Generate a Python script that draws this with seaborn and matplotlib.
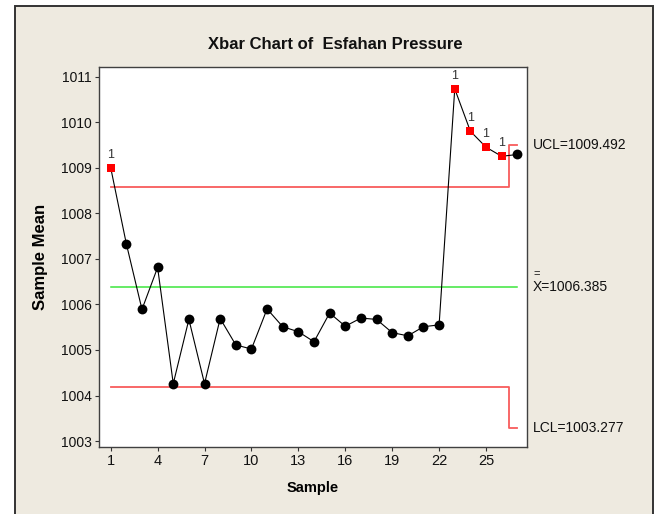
import matplotlib
matplotlib.use("Agg")
import matplotlib.pyplot as plt
import matplotlib.transforms as mtransforms
from matplotlib.patches import Rectangle
import seaborn as sns
import pandas as pd

# ---- data ----
samples = list(range(1, 28))
means = [1009.00, 1007.33, 1005.89, 1006.81, 1004.26, 1005.67, 1004.26, 1005.69,
         1005.11, 1005.02, 1005.90, 1005.51, 1005.40, 1005.18, 1005.81, 1005.52,
         1005.70, 1005.67, 1005.38, 1005.31, 1005.51, 1005.55, 1010.73, 1009.80,
         1009.45, 1009.25, 1009.29]
center = 1006.385
ucl_main, lcl_main = 1008.58, 1004.19      # samples 1-26
ucl_last, lcl_last = 1009.492, 1003.277    # sample 27
yticks = [1003, 1004, 1005, 1006, 1007, 1008, 1009, 1010, 1011]
xticks = [1, 4, 7, 10, 13, 16, 19, 22, 25]

plt.rcParams['font.family'] = ['Liberation Sans', 'DejaVu Sans']

W, H = 659, 514
fig = plt.figure(figsize=(W / 100, H / 100), dpi=100, facecolor='white')

# outer Minitab-like panel
fig.patches.append(Rectangle((14.5 / W, -0.02), (652.5 - 14.5) / W, 1 - 6 / H + 0.02,
                             transform=fig.transFigure, facecolor='#EEEAE0',
                             edgecolor='#333333', linewidth=1.4, zorder=-10))

ax = fig.add_axes([99 / W, 1 - 447 / H, 428 / W, 380 / H])
ax.set_facecolor('white')

# limits per sample
ucl = [ucl_main] * 26 + [ucl_last]
lcl = [lcl_main] * 26 + [lcl_last]
df = pd.DataFrame({'Sample': samples, 'Mean': means, 'UCL': ucl, 'LCL': lcl})
df['out'] = (df['Mean'] > df['UCL']) | (df['Mean'] < df['LCL'])

# control limits (stepped at the last subgroup)
half = 0.5
last = samples[-1]
step_x = [samples[0], last - half, last - half, last]
ax.plot(step_x, [ucl_main, ucl_main, ucl_last, ucl_last], color='#F85C5C', lw=1.3, zorder=2)
ax.plot(step_x, [lcl_main, lcl_main, lcl_last, lcl_last], color='#F85C5C', lw=1.3, zorder=2)
ax.plot([samples[0], last], [center, center], color='#3CE63C', lw=1.1, zorder=2)

# data line and points
sns.lineplot(data=df, x='Sample', y='Mean', color='black', lw=0.8, ax=ax, zorder=3)
sns.scatterplot(data=df[~df['out']], x='Sample', y='Mean', color='black', marker='o',
                s=50, edgecolor='black', linewidth=0, ax=ax, zorder=4)
sns.scatterplot(data=df[df['out']], x='Sample', y='Mean', color='#FF0000', marker='s',
                s=34, edgecolor='#FF0000', linewidth=0, ax=ax, zorder=4)
for _, r in df[df['out']].iterrows():
    ax.annotate('1', (r['Sample'], r['Mean']), xytext=(0, 9.5), textcoords='offset points',
                ha='center', va='center', fontsize=9, color='#333333')

# axes styling
ax.set_xlim(0.252, 27.62)
ax.set_ylim(1002.87, 1011.21)
ax.set_xticks(xticks)
ax.set_yticks(yticks)
ax.set_xticklabels([str(t) for t in xticks])
ax.set_yticklabels([str(t) for t in yticks])
ax.tick_params(direction='out', length=3, width=0.8, color='#333333', labelsize=10,
               pad=2, labelcolor='#111111')
ax.tick_params(axis='x', labelsize=10.5)
for sp in ax.spines.values():
    sp.set_color('#404040')
    sp.set_linewidth(1.0)

ax.set_xlabel('Sample', fontsize=10.5, fontweight='bold', va='center')
ax.xaxis.set_label_coords(0.5, (447 - 488) / 380)
ax.set_ylabel('Sample Mean', fontsize=12, fontweight='bold', va='center')
ax.yaxis.set_label_coords((40.5 - 99) / 428, 0.5)

fig.text(335 / W, 1 - 44.5 / H, 'Xbar Chart of  Esfahan Pressure', ha='center', va='center',
         fontsize=12, fontweight='bold', color='#111111')

# right-side limit labels
trans = mtransforms.blended_transform_factory(ax.transAxes, ax.transData)
xl = (533 - 99) / 428
ax.text(xl, ucl_last, f'UCL={ucl_last:.3f}', transform=trans, ha='left', va='center',
        fontsize=10, color='#111111', clip_on=False)
ax.text(xl, center, f'X={center:.3f}', transform=trans, ha='left', va='center',
        fontsize=10, color='#111111', clip_on=False)
ax.annotate('=', (xl, center), xycoords=trans, xytext=(0.5, 9.5), textcoords='offset points',
            ha='left', va='center', fontsize=8, color='#111111', annotation_clip=False)
ax.text(xl, lcl_last, f'LCL={lcl_last:.3f}', transform=trans, ha='left', va='center',
        fontsize=10, color='#111111', clip_on=False)

fig.savefig('out.png', dpi=100, facecolor='white')
